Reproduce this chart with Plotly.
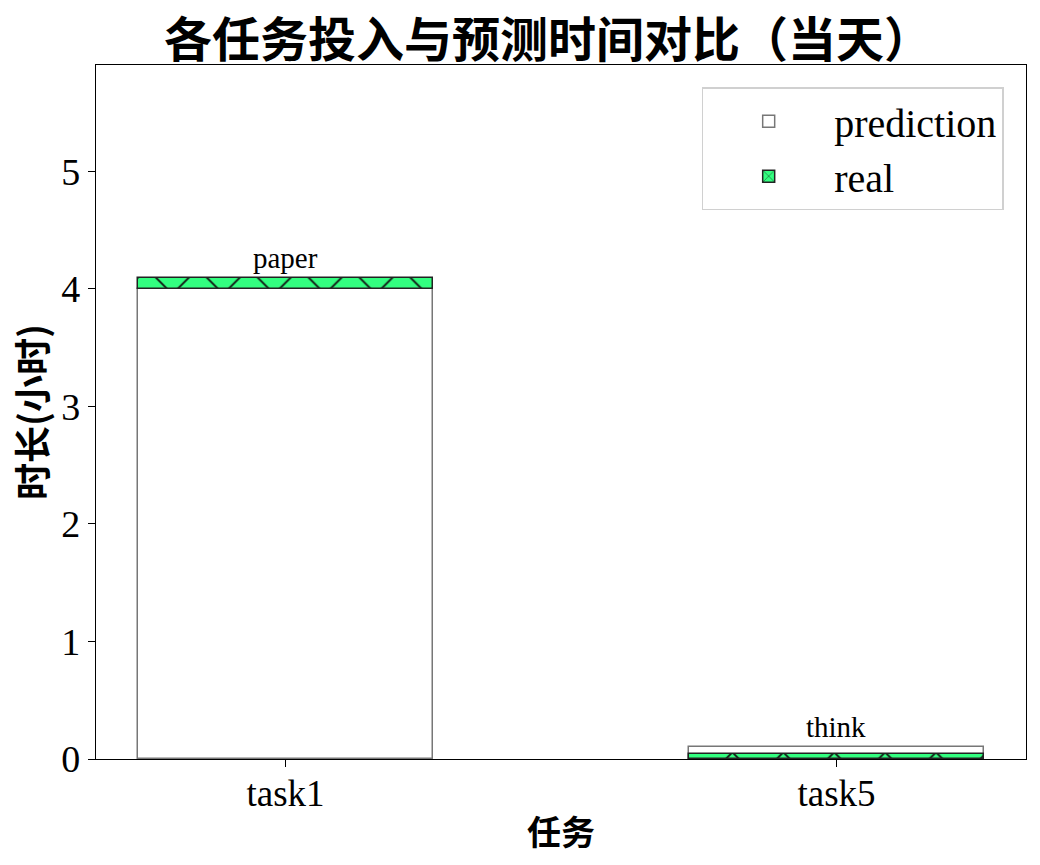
import plotly.graph_objects as go

tasks = ["task1", "task5"]
prediction = [4.0, 0.1]
real = [4.09, 0.04]
labels = ["paper", "think"]
y_ticks = [0, 1, 2, 3, 4, 5]

real_base = [p if r > p else 0 for p, r in zip(prediction, real)]
real_height = [r - b for r, b in zip(real, real_base)]

LAT = "Liberation Serif"
CJK = "Noto Sans CJK SC"
GREEN = "#33ff80"
BAR_W = 0.535

fig = go.Figure()
fig.add_trace(go.Bar(
    x=tasks, y=prediction, name="prediction", width=BAR_W,
    marker=dict(color="white", line=dict(color="#777777", width=1.5)),
))
fig.add_trace(go.Bar(
    x=tasks, y=real_height, base=real_base, name="real", width=BAR_W,
    marker=dict(color=GREEN, line=dict(color="#222222", width=1.5),
                pattern=dict(shape="x", size=36, solidity=0.1,
                             fgcolor="#111111", bgcolor=GREEN, fillmode="replace")),
))

for t, p, r, lab in zip(tasks, prediction, real, labels):
    fig.add_annotation(x=t, y=max(p, r), text=lab, showarrow=False,
                       yanchor="bottom", yshift=2,
                       font=dict(family=LAT, size=29, color="black"))

fig.update_layout(
    width=1040, height=865,
    margin=dict(l=96, r=14, t=65, b=106),
    paper_bgcolor="white", plot_bgcolor="white",
    barmode="overlay", bargap=0,
    showlegend=True,
    title=dict(text="<b>各任务投入与预测时间对比（当天）</b>", x=0.527, xanchor="center",
               y=0.953, yanchor="middle",
               font=dict(family=CJK, size=48, color="black")),
    legend=dict(x=0.976, y=0.968, xanchor="right", yanchor="top",
                bgcolor="white", bordercolor="#d0d0d0", borderwidth=1.5,
                font=dict(family=LAT, size=40, color="black"),
                itemwidth=121, tracegroupgap=10),
    font=dict(family=LAT, color="black"),
)
fig.update_xaxes(
    range=[-0.344, 1.344], showline=True, mirror=True, linecolor="black", linewidth=1.3,
    ticks="outside", ticklen=7, tickwidth=1.3, tickcolor="black",
    showgrid=False, zeroline=False, ticklabelstandoff=-6,
    tickfont=dict(family=LAT, size=37, color="black"),
    title=dict(text="<b>任务</b>", font=dict(family=CJK, size=34, color="black"), standoff=8),
)
fig.update_yaxes(
    range=[0, 5.906], tickvals=y_ticks, showline=True, mirror=True, linecolor="black", linewidth=1.3,
    ticks="outside", ticklen=7, tickwidth=1.3, tickcolor="black",
    showgrid=False, zeroline=False,
    tickfont=dict(family=LAT, size=38, color="black"),
    title=dict(text="<b>时长(小时)</b>", font=dict(family=CJK, size=37, color="black"), standoff=2),
)

fig.write_html("out.html")
